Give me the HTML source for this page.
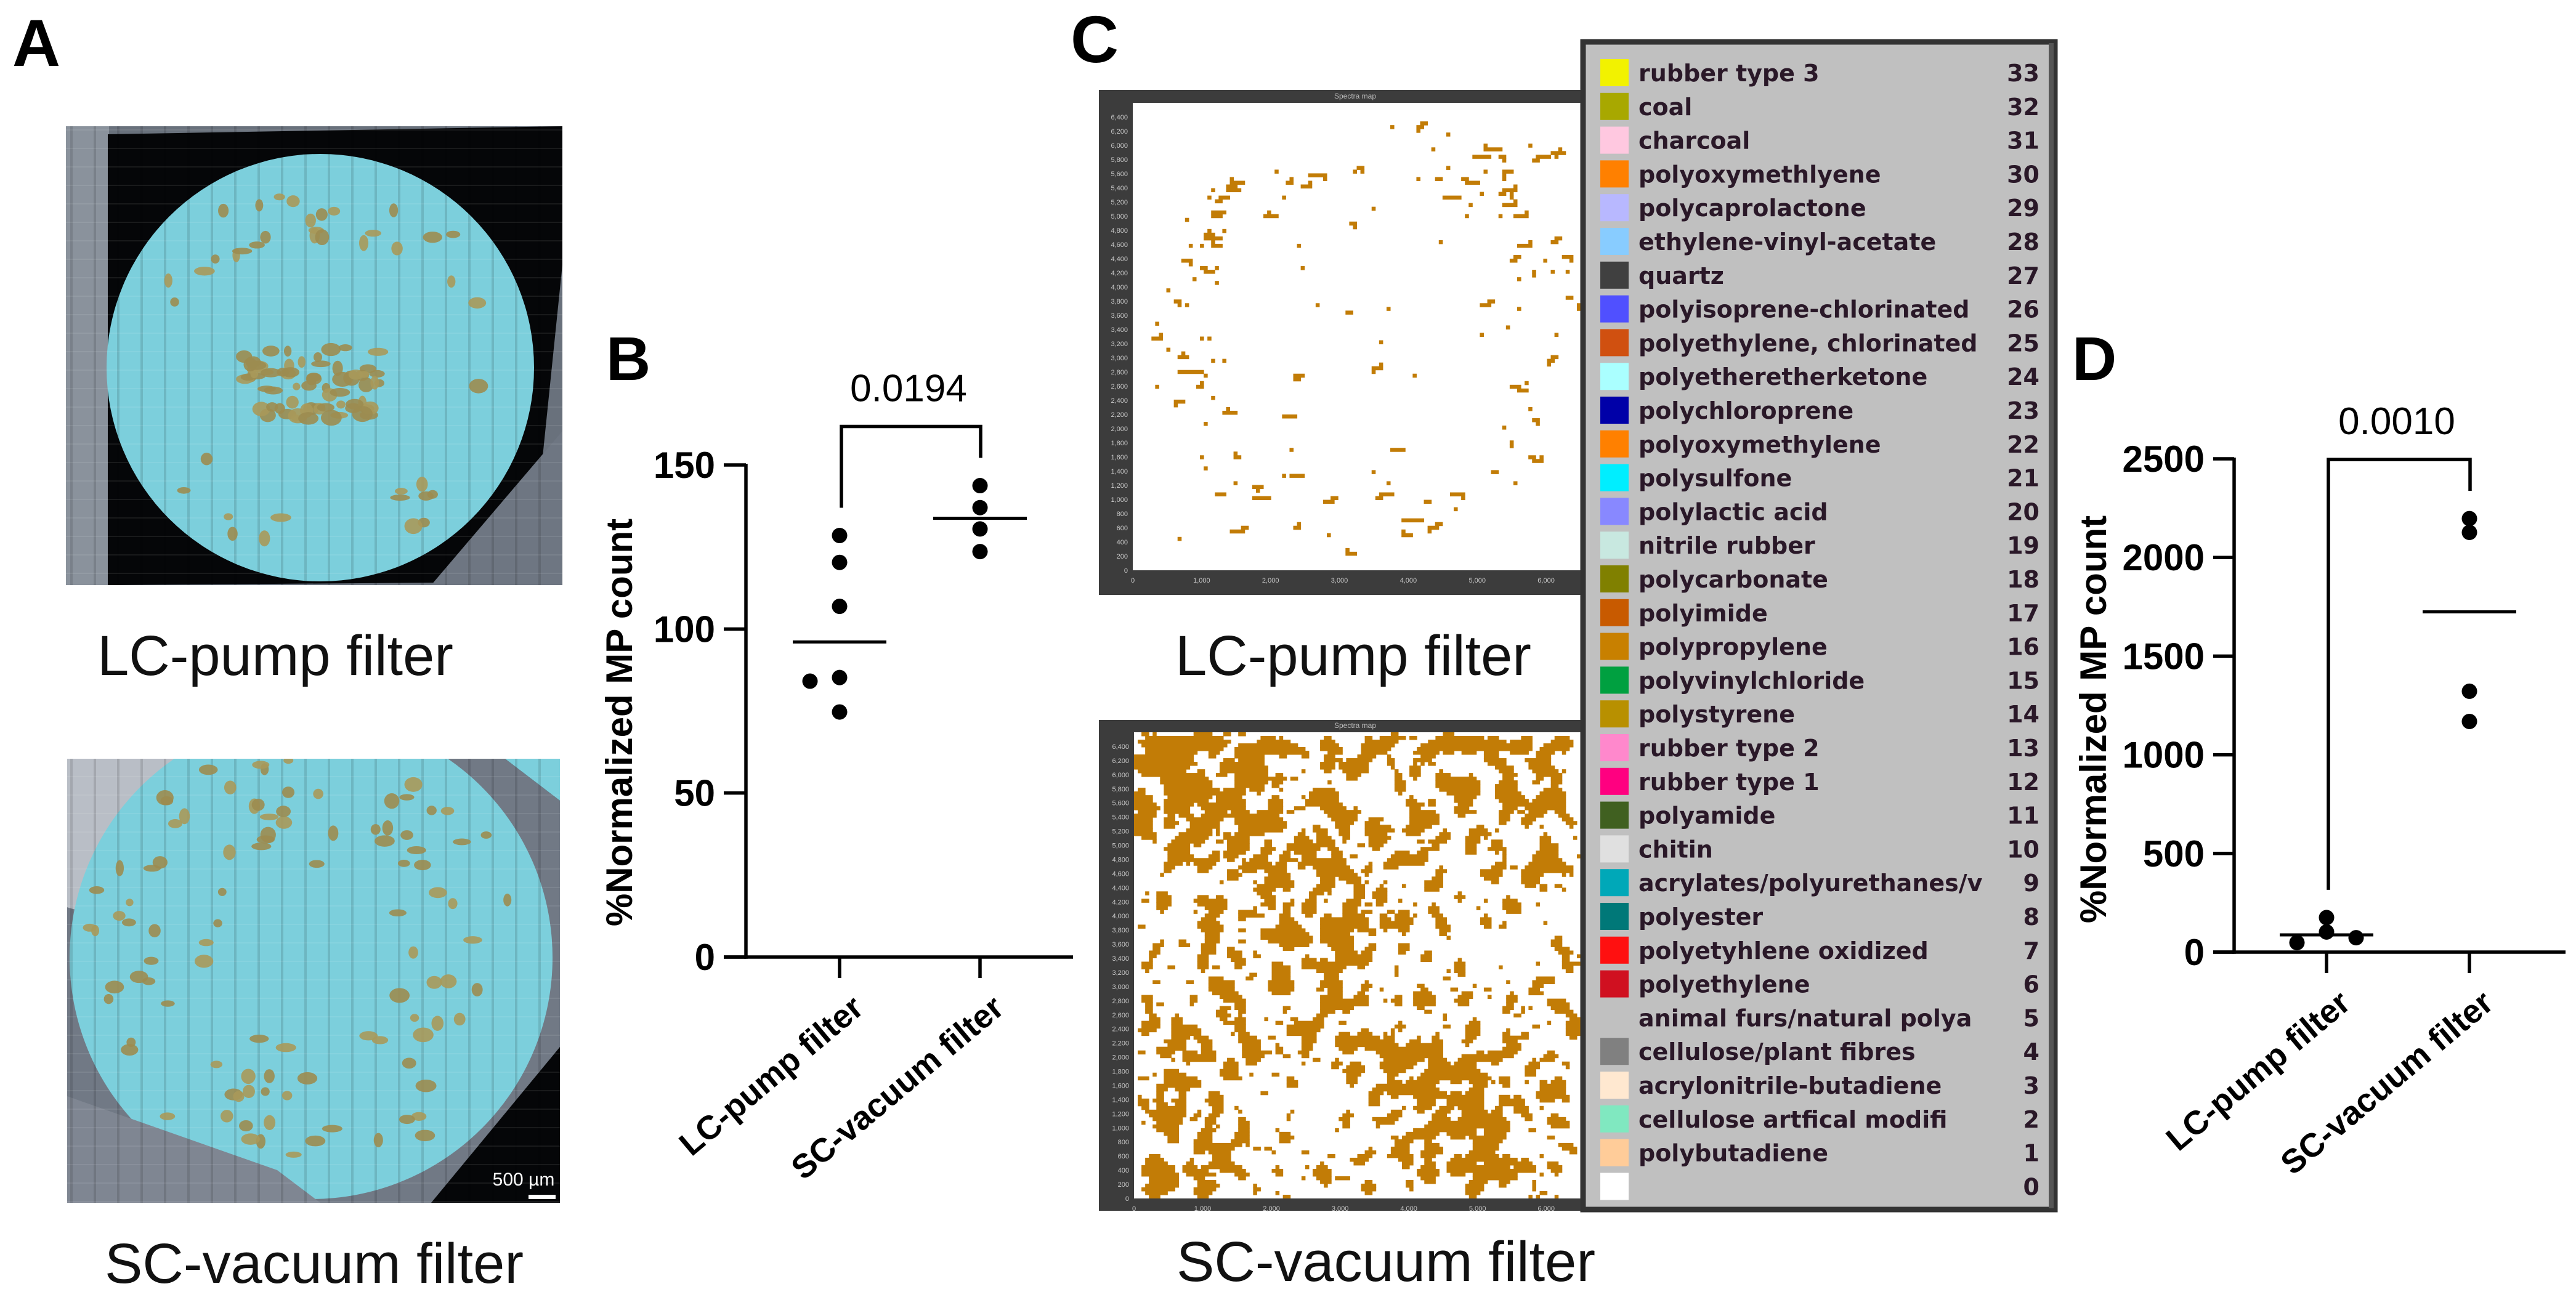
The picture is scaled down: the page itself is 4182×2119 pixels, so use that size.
<!DOCTYPE html>
<html><head><meta charset="utf-8">
<style>
html,body{margin:0;padding:0;background:#fff;}
svg{display:block;}
text{font-family:"Liberation Sans",Arial,sans-serif;}
.leg{font-family:"DejaVu Sans","Liberation Sans",sans-serif;font-size:38px;font-weight:bold;fill:#2a1828;}
</style></head>
<body>
<svg id="fig" xmlns="http://www.w3.org/2000/svg" width="4182" height="2119" viewBox="0 0 4182 2119">
<defs>
  <pattern id="stripes" width="38" height="30" patternUnits="userSpaceOnUse">
    <rect width="38" height="30" fill="none"/>
    <rect x="0" y="0" width="4" height="30" fill="#000" opacity="0.12"/>
    <rect x="0" y="0" width="38" height="2" fill="#fff" opacity="0.08"/>
  </pattern>
  <clipPath id="clipP1"><rect x="107" y="205" width="806" height="745"/></clipPath>
  <clipPath id="clipP2"><rect x="109" y="1232" width="800" height="721"/></clipPath>
  <clipPath id="clipM1"><rect x="1839" y="167" width="727" height="759"/></clipPath>
  <clipPath id="clipM2"><rect x="1841" y="1189" width="725" height="757"/></clipPath>
</defs>

<!-- Panel A -->
<text x="20" y="107" font-size="108" font-weight="bold">A</text>
<g id="photo1" clip-path="url(#clipP1)">
  <rect x="107" y="205" width="806" height="745" fill="#69717c"/>
  <rect x="107" y="205" width="70" height="745" fill="#8a929c"/>
  <polygon points="175,218 913,205 913,430 860,945 175,950" fill="#050608"/>
  <polygon points="700,950 913,700 913,950" fill="#6e7682"/>
  <circle cx="520" cy="597" r="347" fill="#7ccfdc"/>
  <rect x="107" y="205" width="806" height="745" fill="url(#stripes)"/>
  <g id="blobs1"></g>
</g>
<text x="447" y="1096" font-size="92" text-anchor="middle" fill="#111">LC-pump filter</text>

<g id="photo2" clip-path="url(#clipP2)">
  <rect x="109" y="1232" width="800" height="721" fill="#717985"/>
  <ellipse cx="150" cy="1300" rx="150" ry="180" fill="#b9bec6"/>
  <polygon points="820,1232 909,1232 909,1300" fill="#050608"/>
  <polygon points="909,1700 909,1953 700,1953" fill="#050608"/>
  <circle cx="505" cy="1555" r="392" fill="#7ccfdc"/>
  <polygon points="109,1232 820,1232 909,1300 909,1232" fill="#7ccfdc"/>
  <polygon points="109,1780 450,1900 520,1953 109,1953" fill="#7f8692"/>
  <rect x="109" y="1232" width="800" height="721" fill="url(#stripes)"/>
  <g id="blobs2"></g>
  <text x="850" y="1925" font-size="30" fill="#fff" text-anchor="middle">500 µm</text>
  <rect x="858" y="1940" width="44" height="7" fill="#fff"/>
</g>
<text x="510" y="2083" font-size="92" text-anchor="middle" fill="#111">SC-vacuum filter</text>

<!-- Panel C -->
<text x="1738" y="101" font-size="108" font-weight="bold">C</text>
<g>
  <rect x="1784" y="146" width="800" height="820" fill="#3c3c3c"/>
  <rect x="1839" y="167" width="727" height="759" fill="#fff"/>
  <text x="2200" y="160" font-size="12" fill="#bbb" text-anchor="middle">Spectra map</text>
  <g id="map1" clip-path="url(#clipM1)"></g>
  <g id="map1axes"></g>
</g>
<text x="2197" y="1096" font-size="92" text-anchor="middle" fill="#111">LC-pump filter</text>
<g>
  <rect x="1784" y="1169" width="966" height="797" fill="#3c3c3c"/>
  <rect x="1841" y="1189" width="725" height="757" fill="#fff"/>
  <text x="2200" y="1182" font-size="12" fill="#bbb" text-anchor="middle">Spectra map</text>
  <g id="map2" clip-path="url(#clipM2)"></g>
  <g id="map2axes"></g>
</g>
<text x="2250" y="2080" font-size="92" text-anchor="middle" fill="#111">SC-vacuum filter</text>

<g id="legend">
  <rect x="2570" y="68" width="766" height="1896" fill="#c0c0c0" stroke="#333" stroke-width="9"/>
  <rect x="3326" y="70" width="8" height="1892" fill="#555"/>
</g>

<!-- Panel B -->
<text x="984" y="617" font-size="100" font-weight="bold">B</text>
<g id="chartB"></g>

<!-- Panel D -->
<text x="3364" y="617" font-size="100" font-weight="bold">D</text>
<g id="chartD"></g>
</svg>

<script>
// ---------- Chart data ----------
const bCategories = ["LC-pump filter", "SC-vacuum filter"];
const bLcValues = [128.5, 120.3, 106.9, 85.2, 84.1, 74.7];
const bScValues = [143.7, 137.0, 130.5, 123.6];
const bTicks = [0, 50, 100, 150];
const bPValue = "0.0194";

const dCategories = ["LC-pump filter", "SC-vacuum filter"];
const dLcValues = [102, 175, 48, 73];
const dScValues = [2197, 2127, 1322, 1169];
const dTicks = [0, 500, 1000, 1500, 2000, 2500];
const dPValue = "0.0010";

const legendNames = ["rubber type 3","coal","charcoal","polyoxymethlyene","polycaprolactone","ethylene-vinyl-acetate","quartz","polyisoprene-chlorinated","polyethylene, chlorinated","polyetheretherketone","polychloroprene","polyoxymethylene","polysulfone","polylactic acid","nitrile rubber","polycarbonate","polyimide","polypropylene","polyvinylchloride","polystyrene","rubber type 2","rubber type 1","polyamide","chitin","acrylates/polyurethanes/v","polyester","polyetyhlene oxidized","polyethylene","animal furs/natural polya","cellulose/plant fibres","acrylonitrile-butadiene","cellulose artfical modifi","polybutadiene",""];
const legendCodes = [33,32,31,30,29,28,27,26,25,24,23,22,21,20,19,18,17,16,15,14,13,12,11,10,9,8,7,6,5,4,3,2,1,0];
const legendColors = ["#f2f200","#a8a800","#ffc8e0","#ff8000","#b8b8ff","#88ccff","#404040","#5050ff","#d05010","#aaffff","#0000a8","#ff8000","#00eeff","#8888ff","#c8e8e0","#808000","#c85a00","#c88000","#00a040","#b89000","#ff88cc","#ff0080","#406020","#e0e0e0","#00a8b8","#007878","#ff1010","#d01020","#c0c0c0","#808080","#ffe8d0","#80e8c0","#ffcc99","#ffffff"];

const NS = "http://www.w3.org/2000/svg";
function mk(tag, attrs, parent) {
  const e = document.createElementNS(NS, tag);
  for (const k in attrs) e.setAttribute(k, attrs[k]);
  parent.appendChild(e);
  return e;
}
function median(a) {
  const s = a.slice().sort((x, y) => x - y);
  const n = s.length;
  return n % 2 ? s[(n - 1) / 2] : (s[n / 2 - 1] + s[n / 2]) / 2;
}

function drawChart(g, cfg, cats, lc, sc, ticks, pval) {
  const y = v => cfg.y0 - (v - ticks[0]) * (cfg.y0 - cfg.yTop) / (ticks[ticks.length - 1] - ticks[0]);
  const catX = [cfg.axisX + cfg.off, cfg.axisX + cfg.off + cfg.gap];
  const sw = 5.5;
  let e = mk("line", {x1: cfg.axisX, y1: cfg.yTop - 2, x2: cfg.axisX, y2: cfg.y0 + sw / 2, stroke: "#000", "stroke-width": sw}, g);
  
  
  e = mk("line", {x1: cfg.axisX - cfg.tick, y1: cfg.y0, x2: cfg.xEnd, y2: cfg.y0, stroke: "#000", "stroke-width": sw}, g);
  
  
  ticks.forEach(t => {
    const l = mk("line", {x1: cfg.axisX - cfg.tick, y1: y(t), x2: cfg.axisX, y2: y(t), stroke: "#000", "stroke-width": sw}, g);
    
    
    const tx = mk("text", {x: cfg.axisX - cfg.tick - 14, y: y(t) + 21, "font-size": 60, "font-weight": "bold", "text-anchor": "end"}, g);
    tx.textContent = t;
    
    
  });
  const yt = mk("text", {x: 0, y: 0, "font-size": 60, "font-weight": "bold", "text-anchor": "middle",
    transform: `translate(${cfg.titleX},${cfg.titleY}) rotate(-90)`}, g);
  yt.textContent = "%Normalized MP count";
  
  
  cats.forEach((c, i) => {
    const l = mk("line", {x1: catX[i], y1: cfg.y0, x2: catX[i], y2: cfg.y0 + 34, stroke: "#000", "stroke-width": sw}, g);
    
    
    const t = mk("text", {x: 0, y: 0, "font-size": 54, "font-weight": "bold", "text-anchor": "end",
      transform: `translate(${catX[i] + 42},${cfg.y0 + 88}) rotate(-40)`}, g);
    t.textContent = c;
    
    
  });
  [lc, sc].forEach((vals, gi) => {
    const placed = [];
    const cands = [0, -1, 1, -2, 2];
    vals.forEach(v => {
      const py = y(v);
      let ox = 0;
      for (const c of cands) {
        const px = catX[gi] + c * 48;
        if (placed.every(p => Math.hypot(p[0] - px, p[1] - py) >= 22)) { ox = px; break; }
      }
      placed.push([ox, py]);
      const d = mk("circle", {cx: ox, cy: py, r: 12.5, fill: "#000"}, g);
      
      
    });
    const m = median(vals);
    const ml = mk("line", {x1: catX[gi] - 76, y1: y(m), x2: catX[gi] + 76, y2: y(m), stroke: "#000", "stroke-width": 5}, g);
    
    
  });
  const legL = y(Math.max(...lc)) - 45, legR = y(Math.max(...sc)) - 45;
  const top = Math.min(legL, legR) - 51;
  const br = mk("path", {d: `M${catX[0] + 3},${legL} V${top} H${catX[1] + 1} V${legR}`, fill: "none", stroke: "#000", "stroke-width": sw}, g);
  
  
  const pt = mk("text", {x: (catX[0] + catX[1]) / 2 - 2, y: top - 41, "font-size": 62, "text-anchor": "middle"}, g);
  pt.textContent = pval;
  
  
}

drawChart(document.getElementById("chartB"),
  {axisX: 1211, y0: 1554, yTop: 755, tick: 36, xEnd: 1742, off: 152, gap: 228, titleX: 1026, titleY: 1173},
  bCategories, bLcValues, bScValues, bTicks, bPValue);
drawChart(document.getElementById("chartD"),
  {axisX: 3627, y0: 1546, yTop: 745, tick: 34, xEnd: 4165, off: 150, gap: 232, titleX: 3419, titleY: 1168},
  dCategories, dLcValues, dScValues, dTicks, dPValue);

// ---------- Legend ----------
const leg = document.getElementById("legend");
legendNames.forEach((n, i) => {
  const cy = 118 + i * 54.8;
  if (legendCodes[i] !== 5) {
    const s = mk("rect", {x: 2598, y: cy - 22, width: 46, height: 44, fill: legendColors[i]}, leg);
    
    
  }
  const t = mk("text", {x: 2660, y: cy + 14, class: "leg"}, leg);
  t.textContent = n;
  
  
  const c = mk("text", {x: 3311, y: cy + 14, class: "leg", "text-anchor": "end"}, leg);
  c.textContent = legendCodes[i];
  
  
});

// ---------- Texture imagery (spectra maps, photos) ----------
function prng(seed) { return function () { seed |= 0; seed = seed + 0x6D2B79F5 | 0; let t = Math.imul(seed ^ seed >>> 15, 1 | seed); t = t + Math.imul(t ^ t >>> 7, 61 | t) ^ t; return ((t ^ t >>> 14) >>> 0) / 4294967296; }; }

const COLS = 120, ROWS = 126;
function renderGrid(gid, grid, x0, y0, w, h) {
  const g = document.getElementById(gid);
  const cw = w / COLS, ch = h / ROWS;
  for (let j = 0; j < ROWS; j++) {
    let run = -1;
    for (let i = 0; i <= COLS; i++) {
      const on = i < COLS && grid[j][i];
      if (on && run < 0) run = i;
      if (!on && run >= 0) {
        const e = mk("rect", {x: x0 + run * cw, y: y0 + j * ch, width: (i - run) * cw + 0.5, height: ch + 0.5, fill: "#c27c06"}, g);
        
        
        run = -1;
      }
    }
  }
}
function emptyGrid() { return Array.from({length: ROWS}, () => new Array(COLS).fill(false)); }

// sparse map: small clusters, mostly along a ring
(function () {
  const r = prng(7);
  const grid = emptyGrid();
  for (let k = 0; k < 150; k++) {
    let u, v;
    if (r() < 0.7) {
      const a = -Math.PI * (r() * 1.1) - 0.1 + (r() < 0.25 ? Math.PI * 1.1 : 0);
      const d = 0.34 + r() * 0.14;
      u = 0.52 + Math.cos(a) * d; v = 0.5 + Math.sin(a) * d;
    } else { u = 0.1 + r() * 0.85; v = 0.05 + r() * 0.9; }
    let i = Math.floor(u * COLS), j = Math.floor(v * ROWS);
    const n = r() < 0.55 ? 1 : 2 + Math.floor(r() * 5);
    for (let s = 0; s < n; s++) {
      if (i >= 0 && i < COLS && j >= 0 && j < ROWS) grid[j][i] = true;
      if (r() < 0.7) i += 1; else j += (r() < 0.5 ? 1 : -1);
    }
  }
  renderGrid("map1", grid, 1839, 167, 727, 759);
})();

// dense map: clustered via majority smoothing
(function () {
  const r = prng(11);
  let grid = emptyGrid();
  for (let j = 0; j < ROWS; j++) for (let i = 0; i < COLS; i++) {
    const u = i / COLS, v = j / ROWS;
    let p = 0.40 + 0.08 * Math.sin(u * 9 + 1) * Math.cos(v * 7);
    if (u < 0.5 && v < 0.3) p += 0.07;
    grid[j][i] = r() < p;
  }
  for (let it = 0; it < 3; it++) {
    const ng = emptyGrid();
    for (let j = 0; j < ROWS; j++) for (let i = 0; i < COLS; i++) {
      let c = 0;
      for (let dj = -1; dj <= 1; dj++) for (let di = -1; di <= 1; di++) {
        const jj = j + dj, ii = i + di;
        if (jj >= 0 && jj < ROWS && ii >= 0 && ii < COLS && grid[jj][ii]) c++;
      }
      ng[j][i] = c >= 5 || (c === 4 && r() < 0.3);
    }
    grid = ng;
  }
  // sprinkle small specks
  for (let k = 0; k < 250; k++) { const i = Math.floor(r() * COLS), j = Math.floor(r() * ROWS); grid[j][i] = true; if (r() < 0.5 && i + 1 < COLS) grid[j][i + 1] = true; }
  renderGrid("map2", grid, 1841, 1189, 725, 757);
})();

function mapAxes(gid, x0, y0, w, h) {
  const g = document.getElementById(gid);
  for (let k = 0; k <= 32; k++) {
    const t = mk("text", {x: x0 - 8, y: y0 + h - k * (h / 33) + 4, "font-size": 11, fill: "#c8c8c8", "text-anchor": "end"}, g);
    t.textContent = (k * 200).toLocaleString("en-US");
  }
  for (let k = 0; k <= 6; k++) {
    const t = mk("text", {x: x0 + k * (w / 6.5), y: y0 + h + 20, "font-size": 11, fill: "#c8c8c8", "text-anchor": "middle"}, g);
    t.textContent = (k * 1000).toLocaleString("en-US");
  }
}
mapAxes("map1axes", 1839, 167, 727, 759);
mapAxes("map2axes", 1841, 1189, 725, 757);

function blobs(gid, n, centerFn, seed) {
  const g = document.getElementById(gid);
  const r = prng(seed);
  for (let k = 0; k < n; k++) {
    const [cx, cy] = centerFn(r);
    const e = mk("ellipse", {cx, cy, rx: 6 + r() * 11, ry: 5 + r() * 8, fill: r() < 0.5 ? "#a8995a" : "#9c8c50", opacity: 0.9}, g);
    
    
  }
}
blobs("blobs1", 70, r => [395 + r() * 230, 560 + r() * 120], 3);
blobs("blobs1", 40, r => { const a = -Math.PI * (0.1 + r() * 0.8) + (r() < 0.3 ? Math.PI * 0.9 : 0); const d = 200 + r() * 110; return [520 + Math.cos(a) * d, 597 + Math.sin(a) * d]; }, 5);
blobs("blobs2", 100, r => { const a = r() * Math.PI * 2; const d = 150 + r() * 210; return [505 + Math.cos(a) * d * 1.05, 1555 + Math.sin(a) * d * 0.95]; }, 9);
</script>
</body></html>
